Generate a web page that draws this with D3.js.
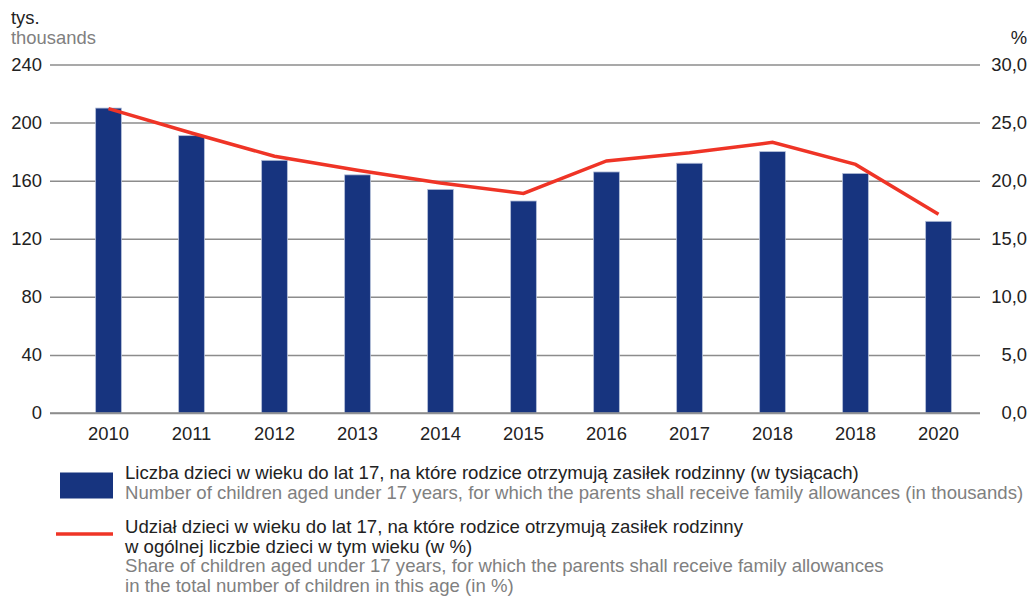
<!DOCTYPE html>
<html><head><meta charset="utf-8">
<script src="https://cdn.jsdelivr.net/npm/d3@7"></script>
<style>
body{margin:0;background:#fff;}
svg{font-family:"Liberation Sans",Arial,sans-serif;}
</style></head>
<body><svg id="c" width="1030" height="597"></svg>
<script>
const years = ["2010","2011","2012","2013","2014","2015","2016","2017","2018","2018 ","2020"];
const children = [210,191,174,164,154,146,166,172,180,165,132];
const share = [26.2,24.1,22.1,20.9,19.8,18.9,21.7,22.4,23.3,21.4,17.1];
const leftTicks = [0,40,80,120,160,200,240];
const rightTicks = [0,5,10,15,20,25,30];

const svg = d3.select("#c");
const L = 50, R = 980, T = 64.5, B = 413;
const FS = 18.4;
const x = d3.scaleBand().domain(years).range([67, 980]).paddingInner(0.69).paddingOuter(0.345);
const yL = d3.scaleLinear().domain([0,240]).range([B,T]);
const yR = d3.scaleLinear().domain([0,30]).range([B,T]);

// grid + left axis
const gl = svg.append("g").attr("transform",`translate(${L},0)`)
  .call(d3.axisLeft(yL).tickValues(leftTicks).tickSize(-(R-L)).tickPadding(8));
gl.select(".domain").remove();
gl.selectAll(".tick line").attr("stroke","#8c8c8c").attr("stroke-width",1.5);
gl.selectAll(".tick text").attr("font-size",FS).attr("fill","#222").attr("x",-8);

const gr = svg.append("g").attr("transform",`translate(${R},0)`)
  .call(d3.axisRight(yR).tickValues(rightTicks).tickSize(0).tickFormat(d=>d3.format(".1f")(d).replace(".",",")));
gr.select(".domain").remove();
gr.selectAll(".tick text").attr("font-size",FS).attr("fill","#222").attr("text-anchor","end").attr("x",47);

// bars
svg.append("g").selectAll("rect").data(children).join("rect")
  .attr("x",(d,i)=>x(years[i])).attr("width",x.bandwidth())
  .attr("y",d=>yL(d)).attr("height",d=>B-yL(d))
  .attr("fill","#17347f").attr("stroke","#b4bfd8").attr("stroke-width",0.8);

// x axis
const gx = svg.append("g").attr("transform",`translate(0,${B})`)
  .call(d3.axisBottom(x).tickSize(0).tickPadding(14).tickFormat(d=>d.trim()));
gx.select(".domain").remove();
gx.selectAll(".tick text").attr("font-size",FS).attr("fill","#222");
svg.append("line").attr("x1",L).attr("x2",R).attr("y1",B).attr("y2",B).attr("stroke","#8c8c8c").attr("stroke-width",1.5);

// line
svg.append("path").datum(share)
  .attr("d",d3.line().x((d,i)=>x(years[i])+x.bandwidth()/2).y(d=>yR(d)))
  .attr("fill","none").attr("stroke","#ef3426").attr("stroke-width",3.5);

// axis titles
svg.append("text").attr("x",11).attr("y",24).attr("font-size",FS).attr("fill","#222").text("tys.");
svg.append("text").attr("x",11).attr("y",43.5).attr("font-size",FS).attr("fill","#808080").text("thousands");
svg.append("text").attr("x",1027).attr("y",43.5).attr("font-size",FS).attr("fill","#222").attr("text-anchor","end").text("%");

// legend
svg.append("rect").attr("x",60).attr("y",472.5).attr("width",53).attr("height",26).attr("fill","#17347f");
svg.append("line").attr("x1",56).attr("x2",113).attr("y1",534).attr("y2",534).attr("stroke","#ef3426").attr("stroke-width",3.5);
const leg = [
  ["Liczba dzieci w wieku do lat 17, na które rodzice otrzymują zasiłek rodzinny (w tysiącach)",479,"#222"],
  ["Number of children aged under 17 years, for which the parents shall receive family allowances (in thousands)",498.5,"#808080"],
  ["Udział dzieci w wieku do lat 17, na które rodzice otrzymują zasiłek rodzinny",533,"#222"],
  ["w ogólnej liczbie dzieci w tym wieku (w %)",552.5,"#222"],
  ["Share of children aged under 17 years, for which the parents shall receive family allowances",572,"#808080"],
  ["in the total number of children in this age (in %)",591.5,"#808080"]
];
svg.append("g").selectAll("text").data(leg).join("text")
  .attr("x",125).attr("y",d=>d[1]).attr("font-size",18.6).attr("fill",d=>d[2]).text(d=>d[0]);
</script></body></html>
